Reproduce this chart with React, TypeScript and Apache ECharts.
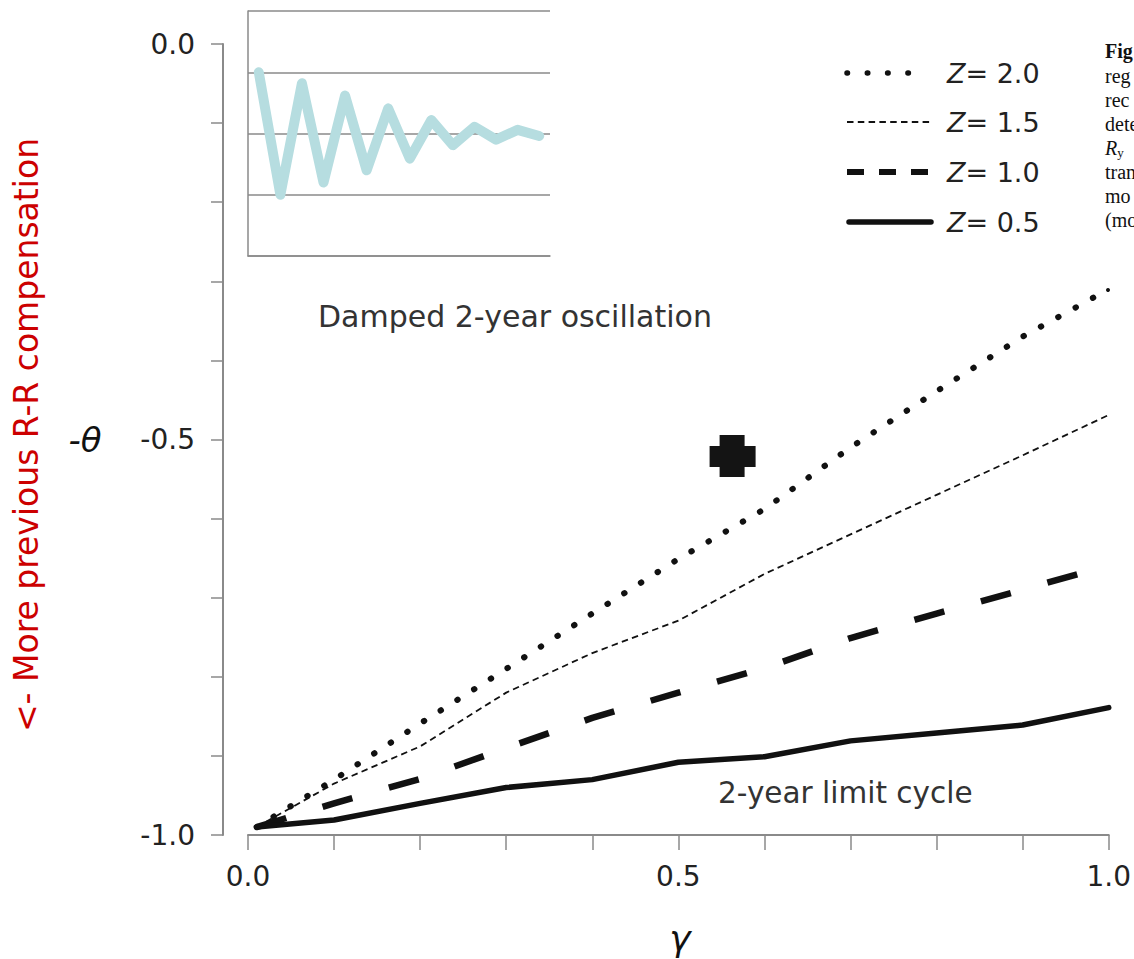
import React, { useEffect, useRef } from "react";
import * as echarts from "echarts";

// ---- data ----
const GAMMA = [0.01, 0.1, 0.2, 0.3, 0.4, 0.5, 0.6, 0.7, 0.8, 0.9, 1.0];
const THETA_Z20 = [-0.99, -0.93, -0.859, -0.79, -0.72, -0.651, -0.588, -0.51, -0.439, -0.37, -0.31];
const THETA_Z15 = [-0.99, -0.935, -0.888, -0.82, -0.77, -0.729, -0.67, -0.62, -0.57, -0.52, -0.469];
const THETA_Z10 = [-0.99, -0.96, -0.929, -0.89, -0.852, -0.82, -0.789, -0.751, -0.72, -0.69, -0.659];
const THETA_Z05 = [-0.99, -0.981, -0.96, -0.94, -0.93, -0.908, -0.901, -0.881, -0.871, -0.861, -0.839];
const SERIES_NAMES = ["Z = 2.0", "Z = 1.5", "Z = 1.0", "Z = 0.5"];
const Z_VALUES = ["2.0", "1.5", "1.0", "0.5"];

const MARKER_POINT = [0.563, -0.521];

const INSET_T = [1, 2, 3, 4, 5, 6, 7, 8, 9, 10, 11, 12, 13, 14];
const INSET_VALUES = [3.0, 1.0, 2.82, 1.2, 2.62, 1.4, 2.41, 1.59, 2.22, 1.81, 2.11, 1.9, 2.06, 1.96];

const X_TICKS = [0, 0.5, 1.0];
const X_TICK_LABELS = ["0.0", "0.5", "1.0"];
const Y_TICKS = [0, -0.5, -1.0];
const Y_TICK_LABELS = ["0.0", "-0.5", "-1.0"];

const CAPTION_LINES = ["reg", "rec", "dete", "{ri|R}{sub|y}", "tran", "mo", "(mo"];

const FONT = '"DejaVu Sans", "Liberation Sans", sans-serif';
const SERIF = '"Liberation Serif", "DejaVu Serif", serif';

function pickLabel(ticks: number[], labels: string[]) {
  return (v: number) => {
    const i = ticks.findIndex((t) => Math.abs(t - v) < 1e-6);
    return i >= 0 ? labels[i] : "";
  };
}

const LINE_STYLES = [
  { width: 6, type: [0.5, 19.3], cap: "round" },
  { width: 1.8, type: [6.5, 4.3], cap: "butt" },
  { width: 6.5, type: [31, 38], cap: "butt" },
  { width: 5.5, type: "solid", cap: "round" },
];
const SERIES_DATA = [THETA_Z20, THETA_Z15, THETA_Z10, THETA_Z05];

const LEGEND_ROWS = [
  { y: 73, dash: [0.5, 19.8], width: 5.5, cap: "round", x1: 847, x2: 928 },
  { y: 122, dash: [6.5, 4.3], width: 1.8, cap: "butt", x1: 847, x2: 933 },
  { y: 172, dash: [17, 15], width: 6, cap: "butt", x1: 847, x2: 929 },
  { y: 222, dash: null, width: 5.5, cap: "round", x1: 849, x2: 931 },
];

export default function App() {
  const ref = useRef<HTMLDivElement>(null);

  useEffect(() => {
    if (!ref.current) return;
    const chart = echarts.init(ref.current, null, { renderer: "svg" });

    const axisGray = "#8a8a8a";

    const mainSeries = SERIES_DATA.map((vals, k) => ({
      name: SERIES_NAMES[k],
      type: "line",
      xAxisIndex: 0,
      yAxisIndex: 0,
      symbol: "none",
      showSymbol: false,
      data: GAMMA.map((g, i) => [g, vals[i]]),
      lineStyle: {
        color: "#111",
        width: LINE_STYLES[k].width,
        type: LINE_STYLES[k].type as any,
        cap: LINE_STYLES[k].cap,
        join: "round",
      },
      z: 3,
    }));

    const legendGraphics: any[] = [];
    LEGEND_ROWS.forEach((r, k) => {
      legendGraphics.push({
        type: "line",
        shape: { x1: r.x1, y1: r.y, x2: r.x2, y2: r.y },
        style: {
          stroke: "#111",
          lineWidth: r.width,
          lineDash: r.dash || undefined,
          lineCap: r.cap,
        },
      });
      legendGraphics.push({
        type: "text",
        x: 947,
        y: r.y,
        style: {
          text: "{z|Z}= " + Z_VALUES[k],
          rich: {
            z: { fontStyle: "italic", fontSize: 27, fontFamily: FONT, fill: "#222" },
          },
          fontSize: 27,
          fontFamily: FONT,
          fill: "#222",
          align: "left",
          verticalAlign: "middle",
          textAlign: "left",
          textVerticalAlign: "middle",
        },
      });
    });

    const captionGraphics: any[] = [
      {
        type: "text",
        x: 1105,
        y: 51,
        style: {
          text: "Fig",
          font: "bold 20px " + SERIF,
          fill: "#111",
          align: "left",
          verticalAlign: "middle",
        },
      },
      ...CAPTION_LINES.map((t, i) => ({
        type: "text",
        x: 1105,
        y: 76 + i * 24,
        style: {
          text: t,
          rich: {
            ri: { fontStyle: "italic", fontSize: 20, fontFamily: SERIF, fill: "#111" },
            sub: { fontSize: 13, fontFamily: SERIF, fill: "#111", verticalAlign: "bottom", padding: [8, 0, 0, 0] },
          },
          fontSize: 20,
          fontFamily: SERIF,
          fill: "#111",
          align: "left",
          verticalAlign: "middle",
        },
      })),
      { type: "circle", shape: { cx: 1108, cy: 290, r: 2 }, style: { fill: "#111" } },
    ];

    const option: any = {
      animation: false,
      backgroundColor: "#fff",
      grid: [
        { left: 248, top: 44, width: 861, height: 791, containLabel: false },
        { left: 248, top: 11, width: 302, height: 245, containLabel: false },
      ],
      xAxis: [
        {
          type: "value",
          gridIndex: 0,
          min: 0,
          max: 1,
          interval: 0.1,
          axisLine: { show: true, onZero: false, lineStyle: { color: axisGray, width: 2 } },
          axisTick: { show: true, length: 15, lineStyle: { color: axisGray, width: 1.5 } },
          axisLabel: {
            show: true,
            formatter: pickLabel(X_TICKS, X_TICK_LABELS),
            margin: 27,
            color: "#222",
            fontSize: 28,
            fontFamily: FONT,
            showMinLabel: true,
            showMaxLabel: true,
          },
          splitLine: { show: false },
        },
        {
          type: "value",
          gridIndex: 1,
          min: 0.5,
          max: 14.5,
          axisLine: { show: true, onZero: false, lineStyle: { color: axisGray, width: 1.5 } },
          axisTick: { show: false },
          axisLabel: { show: false },
          splitLine: { show: false },
        },
      ],
      yAxis: [
        {
          type: "value",
          gridIndex: 0,
          min: -1,
          max: 0,
          interval: 0.1,
          offset: 25,
          axisLine: { show: true, onZero: false, lineStyle: { color: axisGray, width: 2 } },
          axisTick: { show: true, length: 12, lineStyle: { color: axisGray, width: 1.5 } },
          axisLabel: {
            show: true,
            formatter: pickLabel(Y_TICKS, Y_TICK_LABELS),
            margin: 28,
            color: "#222",
            fontSize: 28,
            fontFamily: FONT,
            showMinLabel: true,
            showMaxLabel: true,
          },
          splitLine: { show: false },
        },
        {
          type: "value",
          gridIndex: 1,
          min: 0,
          max: 4,
          interval: 1,
          axisLine: { show: true, onZero: false, lineStyle: { color: axisGray, width: 1.5 } },
          axisTick: { show: false },
          axisLabel: { show: false },
          splitLine: { show: true, lineStyle: { color: axisGray, width: 1.5 } },
        },
      ],
      series: [
        ...mainSeries,
        {
          name: "Damped oscillation",
          type: "line",
          xAxisIndex: 1,
          yAxisIndex: 1,
          symbol: "none",
          showSymbol: false,
          data: INSET_T.map((t, i) => [t, INSET_VALUES[i]]),
          lineStyle: { color: "#b6dde0", width: 10, cap: "round", join: "round" },
          z: 4,
        },
        {
          name: "Estimate",
          type: "scatter",
          xAxisIndex: 0,
          yAxisIndex: 0,
          symbol: "path://M10,0 H35 V11 H46 V32 H35 V42 H10 V32 H0 V11 H10 Z",
          symbolSize: [46, 42],
          itemStyle: { color: "#141414", opacity: 1 },
          emphasis: { disabled: true },
          data: [MARKER_POINT],
          z: 5,
        },
      ],
      graphic: [
        {
          type: "text",
          x: 318,
          y: 316,
          style: {
            text: "Damped 2-year oscillation",
            fontSize: 30,
            fontFamily: FONT,
            fill: "#333",
            align: "left",
            verticalAlign: "middle",
          },
        },
        {
          type: "text",
          x: 718,
          y: 793,
          style: {
            text: "2-year limit cycle",
            fontSize: 29.5,
            fontFamily: FONT,
            fill: "#333",
            align: "left",
            verticalAlign: "middle",
          },
        },
        {
          type: "text",
          x: 85,
          y: 440,
          style: {
            text: "-θ",
            fontSize: 34,
            fontStyle: "italic",
            fontFamily: FONT,
            fill: "#111",
            align: "center",
            verticalAlign: "middle",
          },
        },
        {
          type: "text",
          x: 680,
          y: 938,
          style: {
            text: "γ",
            fontSize: 36,
            fontStyle: "italic",
            fontFamily: FONT,
            fill: "#111",
            align: "center",
            verticalAlign: "middle",
          },
        },
        {
          type: "text",
          x: 26,
          y: 435,
          rotation: Math.PI / 2,
          style: {
            text: "<- More previous R-R compensation",
            fontSize: 33,
            fontFamily: FONT,
            fill: "#cc0000",
            align: "center",
            verticalAlign: "middle",
          },
        },
        ...legendGraphics,
        ...captionGraphics,
      ],
    };

    chart.setOption(option);
    return () => chart.dispose();
  }, []);

  return (
    <div
      ref={ref}
      style={{ position: "fixed", left: 0, top: 0, width: 1134, height: 959, background: "#fff" }}
    />
  );
}
